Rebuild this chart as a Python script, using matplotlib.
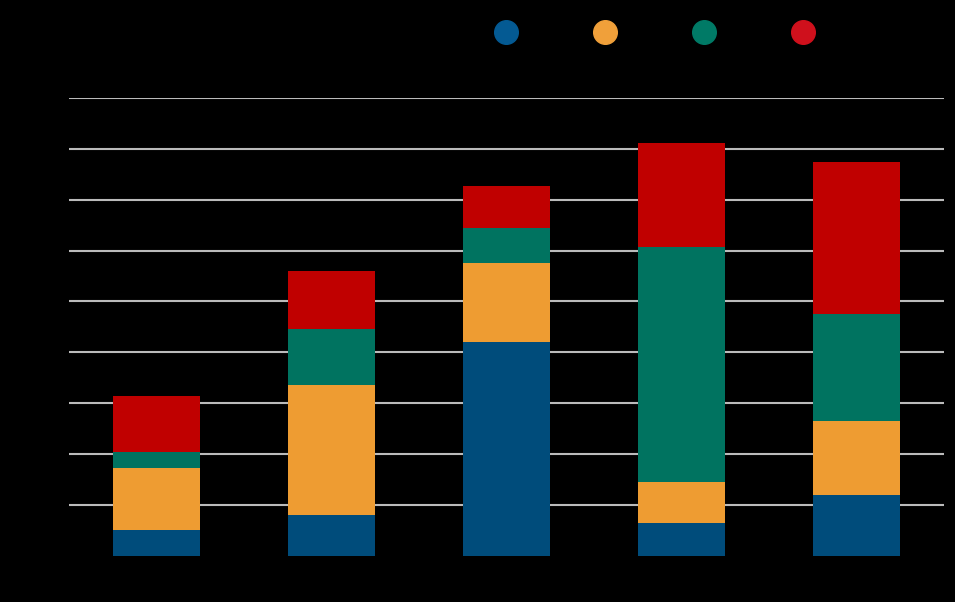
import matplotlib
matplotlib.use("Agg")
import matplotlib.pyplot as plt
from matplotlib.lines import Line2D
import numpy as np

categories = ["Category 1", "Category 2", "Category 3", "Category 4", "Category 5"]
series_names = ["Series 1", "Series 2", "Series 3", "Series 4"]
blue = [5.0, 7.9, 42.0, 6.4, 11.9]
orange = [12.2, 25.6, 15.6, 8.1, 14.6]
green = [3.1, 11.0, 6.9, 46.1, 21.1]
red = [11.0, 11.4, 8.1, 20.5, 29.9]
yticks = [0, 10, 20, 30, 40, 50, 60, 70, 80, 90]

colors = ["#004C7B", "#EE9C32", "#007360", "#C00000"]
legend_colors = ["#045A93", "#F0A03A", "#007A66", "#CF101C"]

fig = plt.figure(figsize=(9.55, 6.02), dpi=100, facecolor="black")
ax = fig.add_axes([69/955, 1-555.6/602, (944-69)/955, (555.6-98)/602])
ax.set_facecolor("black")

x = np.arange(len(categories))
bottom = np.zeros(len(categories))
for vals, c, name in zip([blue, orange, green, red], colors, series_names):
    ax.bar(x, vals, width=0.5, bottom=bottom, color=c, label=name, zorder=3)
    bottom += np.array(vals)

ax.set_xlim(-0.5, 4.5)
ax.set_ylim(0, 90)
ax.set_yticks(yticks)
ax.set_yticklabels([str(v) for v in yticks], color="black", fontsize=11)
ax.set_xticks(x)
ax.set_xticklabels(categories, color="black", fontsize=11)
ax.tick_params(length=0)
ax.grid(axis="y", color="#BBBBBB", linewidth=1.5, zorder=0)
ax.yaxis.get_gridlines()[0].set_visible(False)
for s in ax.spines.values():
    s.set_visible(False)

handles = [Line2D([0], [0], marker="o", linestyle="none", markersize=17,
                  markerfacecolor=c, markeredgecolor=c) for c in legend_colors]
leg = fig.legend(handles, series_names, loc="center left",
                 bbox_to_anchor=(498/955, 1-33/602), ncol=4, frameon=False,
                 handletextpad=0.3, columnspacing=0.6, fontsize=12,
                 borderaxespad=0, borderpad=0, handlelength=1.0)
for t in leg.get_texts():
    t.set_color("black")

fig.savefig("out.png", dpi=100, facecolor="black")
